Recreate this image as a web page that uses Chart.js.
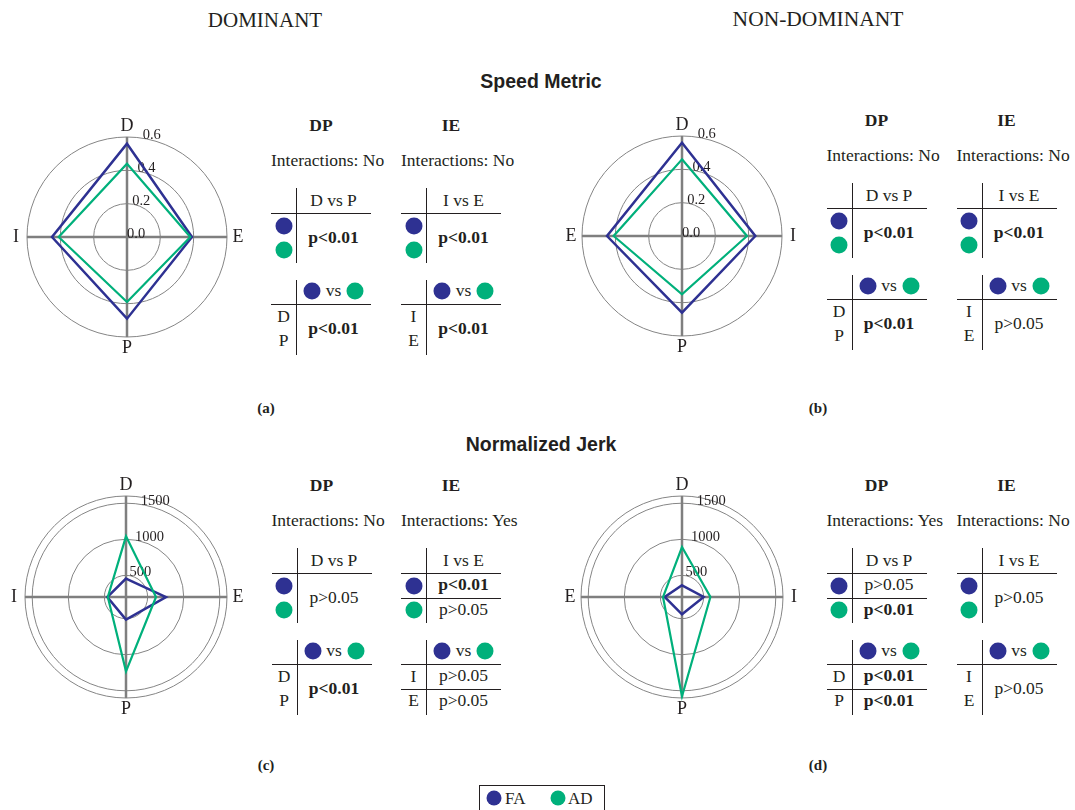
<!DOCTYPE html>
<html>
<head>
<meta charset="utf-8">
<script src="https://cdn.jsdelivr.net/npm/chart.js@4.4.1/dist/chart.umd.min.js"></script>
<style>
  html, body { margin: 0; padding: 0; background: #fff; }
  #fig { position: relative; width: 1075px; height: 810px; overflow: hidden;
         font-family: "Liberation Serif", "Times New Roman", serif; color: #231f20; }
  .t  { position: absolute; white-space: nowrap; line-height: 1; transform: translate(-50%, -50%); }
  .tl { position: absolute; white-space: nowrap; line-height: 1; transform: translateY(-50%); }
  .hl { position: absolute; height: 1px; background: #231f20; }
  .vl { position: absolute; width: 1px; background: #231f20; }
  .dot { position: absolute; border-radius: 50%; transform: translate(-50%, -50%); }
  .sans { font-family: "Liberation Sans", Arial, sans-serif; }
  canvas { position: absolute; }
</style>
</head>
<body>
<div id="fig"></div>
<script>
// ---- colours -------------------------------------------------------------
const FA_COLOR = '#2e3192';
const AD_COLOR = '#00b07b';
const INK = '#231f20';

// ---- data ----------------------------------------------------------------
const groups = ['FA', 'AD'];
const dominantAxes = ['D', 'E', 'P', 'I'];      // clockwise from top
const nonDominantAxes = ['D', 'I', 'P', 'E'];

// Speed metric
const speedRings = [0, 0.2, 0.4, 0.6];
const speedTickLabels = ['0.0', '0.2', '0.4', '0.6'];
const speedDominantFA = [0.56, 0.39, 0.49, 0.45];      // D, E, P, I
const speedDominantAD = [0.44, 0.38, 0.39, 0.41];
const speedNonDominantFA = [0.56, 0.44, 0.46, 0.45];   // D, I, P, E
const speedNonDominantAD = [0.46, 0.39, 0.35, 0.41];

// Normalized jerk
const jerkRings = [200, 500, 1000, 1500, 1600];
const jerkTickValues = [500, 1000, 1500];
const jerkTickLabels = ['500', '1000', '1500'];
const jerkDominantFA = [455, 754, 513, 459];           // D, E, P, I
const jerkDominantAD = [1041, 616, 1230, 452];
const jerkNonDominantFA = [362, 501, 440, 440];        // D, I, P, E
const jerkNonDominantAD = [893, 594, 1576, 463];

// Statistics tables: one entry = merged cell, two entries = one per row
const statsSpeedDomDP = { title: 'DP', cmp: 'D vs P', rows: ['D', 'P'], inter: 'No',  within: ['p<0.01'], between: ['p<0.01'] };
const statsSpeedDomIE = { title: 'IE', cmp: 'I vs E', rows: ['I', 'E'], inter: 'No',  within: ['p<0.01'], between: ['p<0.01'] };
const statsSpeedNonDP = { title: 'DP', cmp: 'D vs P', rows: ['D', 'P'], inter: 'No',  within: ['p<0.01'], between: ['p<0.01'] };
const statsSpeedNonIE = { title: 'IE', cmp: 'I vs E', rows: ['I', 'E'], inter: 'No',  within: ['p<0.01'], between: ['p>0.05'] };
const statsJerkDomDP  = { title: 'DP', cmp: 'D vs P', rows: ['D', 'P'], inter: 'No',  within: ['p>0.05'], between: ['p<0.01'] };
const statsJerkDomIE  = { title: 'IE', cmp: 'I vs E', rows: ['I', 'E'], inter: 'Yes', within: ['p<0.01', 'p>0.05'], between: ['p>0.05', 'p>0.05'] };
const statsJerkNonDP  = { title: 'DP', cmp: 'D vs P', rows: ['D', 'P'], inter: 'Yes', within: ['p>0.05', 'p<0.01'], between: ['p<0.01', 'p<0.01'] };
const statsJerkNonIE  = { title: 'IE', cmp: 'I vs E', rows: ['I', 'E'], inter: 'No',  within: ['p>0.05'], between: ['p>0.05'] };

// ---- helpers for the html annotations ----------------------------------
const fig = document.getElementById('fig');
const TABLE_FONT = 17.5;
function el(cls, css, txt) {
  const d = document.createElement('div');
  d.className = cls;
  Object.assign(d.style, css);
  if (txt !== undefined) d.textContent = txt;
  fig.appendChild(d);
  return d;
}
function text(txt, x, y, size, bold, extraCls) {
  return el('t' + (extraCls ? ' ' + extraCls : ''), { left: x + 'px', top: y + 'px', fontSize: size + 'px', fontWeight: bold ? 'bold' : 'normal' }, txt);
}
function textLeft(txt, x, y, size) {
  return el('tl', { left: x + 'px', top: y + 'px', fontSize: size + 'px' }, txt);
}
function hline(x, y, w) { el('hl', { left: x + 'px', top: y + 'px', width: w + 'px' }); }
function vline(x, y, h) { el('vl', { left: x + 'px', top: y + 'px', height: h + 'px' }); }
function dot(color, x, y, d) {
  el('dot', { left: x + 'px', top: y + 'px', width: d + 'px', height: d + 'px', background: color });
}
function pText(v, x, y) { text(v, x, y, TABLE_FONT, v.startsWith('p<')); }
function pCells(vals, x, h) {
  if (vals.length === 1) {
    pText(vals[0], x + 62.5, h + 25);
  } else {
    hline(x, h + 25, 100);
    pText(vals[0], x + 62.5, h + 12.5);
    pText(vals[1], x + 62.5, h + 37.5);
  }
}

// One block: title, interaction note, within-group table, between-group table
function statBlock(x, h, s) {
  text(s.title, x + 50, h - 87, TABLE_FONT, true);
  textLeft('Interactions: ' + s.inter, x, h - 52, TABLE_FONT);

  hline(x, h, 100);
  vline(x + 25, h - 25, 75);
  text(s.cmp, x + 62.5, h - 12, TABLE_FONT);
  dot(FA_COLOR, x + 12.5, h + 13, 17);
  dot(AD_COLOR, x + 12.5, h + 37.5, 17);
  pCells(s.within, x, h);

  const h2 = h + 91;
  hline(x, h2, 100);
  vline(x + 25, h2 - 24, 75);
  dot(FA_COLOR, x + 41, h2 - 12.5, 17);
  text('vs', x + 62.5, h2 - 13, TABLE_FONT);
  dot(AD_COLOR, x + 84, h2 - 12.5, 17);
  text(s.rows[0], x + 12.5, h2 + 13.5, TABLE_FONT);
  text(s.rows[1], x + 12.5, h2 + 37.5, TABLE_FONT);
  pCells(s.between, x, h2);
}

// ---- radar charts --------------------------------------------------------
const labelPad = { D: 2, P: 2, I: 8, E: 5.5 };

// radial value labels laid out along a ray just right of the vertical axis
const radialTickLabels = {
  id: 'radialTickLabels',
  beforeDatasetsDraw(chart, args, opts) {
    const s = chart.scales.r;
    const ctx = chart.ctx;
    const a = 9 * Math.PI / 180;
    ctx.save();
    ctx.font = '14.5px "Liberation Serif", "Times New Roman", serif';
    ctx.fillStyle = INK;
    ctx.textAlign = 'left';
    ctx.textBaseline = 'middle';
    opts.values.forEach((v, i) => {
      const d = s.getDistanceFromCenterForValue(v);
      ctx.fillText(opts.labels[i], s.xCenter + d * Math.sin(a), s.yCenter - d * Math.cos(a) - 3);
    });
    ctx.restore();
  }
};

function radar(left, top, size, axes, fa, ad, rings, tickValues, tickLabels) {
  const c = document.createElement('canvas');
  c.width = size; c.height = size;
  c.style.left = left + 'px'; c.style.top = top + 'px';
  c.style.width = size + 'px'; c.style.height = size + 'px';
  fig.appendChild(c);
  return new Chart(c, {
    type: 'radar',
    data: {
      labels: axes,
      datasets: [
        { label: groups[0], data: fa, borderColor: FA_COLOR, borderWidth: 2.5, pointRadius: 0, fill: false, tension: 0, order: 1 },
        { label: groups[1], data: ad, borderColor: AD_COLOR, borderWidth: 2.2, pointRadius: 0, fill: false, tension: 0, order: 0 }
      ]
    },
    options: {
      responsive: false,
      animation: false,
      devicePixelRatio: 1,
      layout: { padding: 0 },
      plugins: {
        legend: { display: false },
        tooltip: { enabled: false },
        radialTickLabels: { values: tickValues, labels: tickLabels }
      },
      scales: {
        r: {
          min: rings[0],
          max: rings[rings.length - 1],
          afterBuildTicks: (scale) => { scale.ticks = rings.map(v => ({ value: v })); },
          ticks: { display: false },
          grid: { circular: true, color: '#858585', lineWidth: 1 },
          angleLines: { color: '#7f7f7f', lineWidth: 2.5 },
          pointLabels: {
            color: INK,
            font: { family: '"Liberation Serif", "Times New Roman", serif', size: 18, lineHeight: 1 },
            padding: (ctx) => labelPad[ctx.label]
          }
        }
      }
    },
    plugins: [radialTickLabels]
  });
}

// ---- headings ------------------------------------------------------------
text('DOMINANT', 265, 20, 21);
text('NON-DOMINANT', 818, 20, 21.5);
text('Speed Metric', 541, 82, 19.5, true, 'sans');
text('Normalized Jerk', 541, 445, 19.5, true, 'sans');
text('(a)', 266, 408, 15, true);
text('(b)', 818, 408, 15, true);
text('(c)', 266, 765, 15, true);
text('(d)', 818, 765, 15, true);

// ---- panels --------------------------------------------------------------
radar(9, 117, 240, dominantAxes, speedDominantFA, speedDominantAD, speedRings, speedRings, speedTickLabels);
radar(561, 116, 240, nonDominantAxes, speedNonDominantFA, speedNonDominantAD, speedRings, speedRings, speedTickLabels);
radar(7, 476, 242, dominantAxes, jerkDominantFA, jerkDominantAD, jerkRings, jerkTickValues, jerkTickLabels);
radar(560, 476, 242, nonDominantAxes, jerkNonDominantFA, jerkNonDominantAD, jerkRings, jerkTickValues, jerkTickLabels);

statBlock(271, 212.5, statsSpeedDomDP);
statBlock(401, 212.5, statsSpeedDomIE);
statBlock(826.5, 207.5, statsSpeedNonDP);
statBlock(956.5, 207.5, statsSpeedNonIE);
statBlock(271.5, 572.5, statsJerkDomDP);
statBlock(401, 572.5, statsJerkDomIE);
statBlock(826.5, 572.5, statsJerkNonDP);
statBlock(956.5, 572.5, statsJerkNonIE);

// ---- legend --------------------------------------------------------------
el('', { position: 'absolute', left: '479px', top: '785px', width: '126px', height: '30px', border: '1px solid ' + INK, boxSizing: 'border-box' });
dot(FA_COLOR, 494, 797.5, 15);
textLeft(groups[0], 505, 798, 17);
dot(AD_COLOR, 557.5, 797.5, 15);
textLeft(groups[1], 568, 798, 17);
</script>
</body>
</html>
